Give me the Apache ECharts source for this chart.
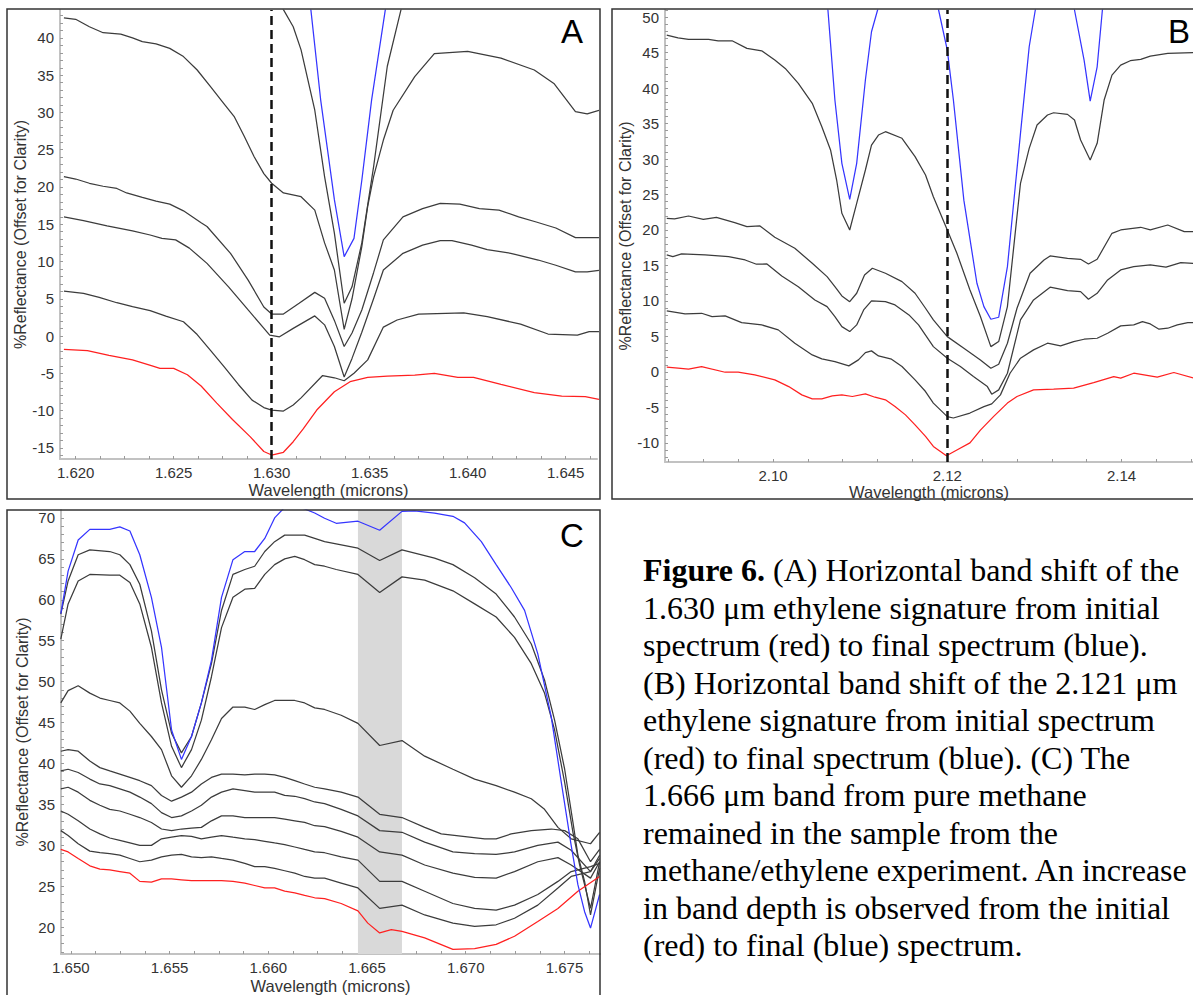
<!DOCTYPE html>
<html><head><meta charset="utf-8">
<script src="https://cdn.jsdelivr.net/npm/echarts@6.0.0/dist/echarts.min.js"></script>
<style>html,body{margin:0;padding:0;background:#fff;}#c{width:1193px;height:995px;}</style>
</head><body><div id="c"></div>
<script>
// ---------------- Panel A (1.620 - 1.646 µm) ----------------
const A_xTicks = [1.620, 1.625, 1.630, 1.635, 1.640, 1.645];
const A_yTicks = [-15, -10, -5, 0, 5, 10, 15, 20, 25, 30, 35, 40];
const A_red = [[1.6194,-1.8],[1.6206,-1.97],[1.6217,-2.6],[1.6229,-3.2],[1.6239,-4.0],[1.6243,-4.34],[1.6250,-4.34],[1.6257,-5.2],[1.6264,-6.7],[1.6272,-9.0],[1.6280,-11.2],[1.6289,-13.5],[1.6296,-15.5],[1.6300,-15.97],[1.6306,-15.6],[1.6311,-14.18],[1.6316,-12.5],[1.6323,-9.93],[1.6332,-7.47],[1.6340,-6.13],[1.6349,-5.55],[1.6359,-5.37],[1.6373,-5.23],[1.6383,-5.0],[1.6395,-5.55],[1.6403,-5.55],[1.6417,-6.5],[1.6434,-7.6],[1.6448,-8.05],[1.6460,-8.14],[1.6467,-8.5]];
const A_s2 = [[1.6194,6.04],[1.6204,5.73],[1.6212,5.19],[1.6221,4.47],[1.6229,3.94],[1.6238,3.4],[1.6246,2.68],[1.6255,1.92],[1.6262,0.2],[1.6269,-2.0],[1.6276,-4.2],[1.6283,-6.5],[1.6290,-8.6],[1.6296,-9.6],[1.6300,-9.93],[1.6306,-10.07],[1.6311,-9.26],[1.6315,-8.3],[1.6326,-5.3],[1.6332,-5.6],[1.6337,-6.0],[1.6342,-5.0],[1.6349,-3.2],[1.6357,1.2],[1.6364,2.15],[1.6375,2.95],[1.6398,3.1],[1.6410,2.6],[1.6427,1.6],[1.6441,0.27],[1.6456,0.13],[1.6462,0.58],[1.6467,0.58]];
const A_s3 = [[1.6194,16.0],[1.6204,15.48],[1.6216,14.77],[1.6229,14.1],[1.6238,13.56],[1.6244,13.1],[1.6251,12.9],[1.6258,11.8],[1.6267,9.75],[1.6278,6.6],[1.6288,3.5],[1.6299,0.13],[1.6304,-0.1],[1.6311,1.03],[1.6322,2.7],[1.6327,1.5],[1.6332,-1.4],[1.6337,-5.5],[1.6341,-3.0],[1.6346,0.5],[1.6352,5.0],[1.6357,8.86],[1.6367,11.1],[1.6377,12.2],[1.6386,12.8],[1.6392,12.8],[1.6402,12.2],[1.6410,11.6],[1.6422,11.1],[1.6436,10.2],[1.6445,9.5],[1.6455,8.6],[1.6461,8.6],[1.6467,8.8]];
const A_s4 = [[1.6194,21.4],[1.6200,21.07],[1.6207,20.5],[1.6214,20.1],[1.6221,19.8],[1.6226,19.2],[1.6234,18.6],[1.6241,18.1],[1.6248,17.7],[1.6255,16.8],[1.6264,15.2],[1.6267,14.7],[1.6279,11.1],[1.6288,7.5],[1.6296,3.9],[1.6300,2.95],[1.6306,2.95],[1.6314,4.4],[1.6322,5.86],[1.6327,5.06],[1.6332,2.1],[1.6337,-1.4],[1.6341,0.4],[1.6346,3.5],[1.6352,8.5],[1.6357,12.9],[1.6367,16.0],[1.6377,17.1],[1.6386,17.8],[1.6396,17.7],[1.6406,17.1],[1.6416,16.9],[1.6426,16.0],[1.6435,15.3],[1.6445,14.5],[1.6455,13.2],[1.6467,13.2]];
const A_s5 = [[1.6194,42.7],[1.6200,42.5],[1.6207,41.5],[1.6214,40.7],[1.6223,40.5],[1.6229,40.0],[1.6234,39.5],[1.6241,39.2],[1.6248,38.6],[1.6255,37.5],[1.6262,35.7],[1.6269,33.4],[1.6275,31.4],[1.6281,29.4],[1.6286,26.8],[1.6291,24.1],[1.6296,21.8],[1.6300,20.5],[1.6306,19.2],[1.6315,18.7],[1.6322,16.9],[1.6327,12.5],[1.6332,8.86],[1.6337,0.9],[1.6341,5.0],[1.6346,12.0],[1.6349,17.4],[1.6352,21.4],[1.6357,26.3],[1.6362,30.3],[1.6373,34.8],[1.6383,37.9],[1.6400,38.2],[1.6417,37.3],[1.6434,35.7],[1.6444,33.9],[1.6455,30.1],[1.6461,29.8],[1.6467,30.3]];
const A_s6 = [[1.6300,47],[1.6306,43.8],[1.6311,41.5],[1.6315,38.4],[1.6322,30.3],[1.6327,21.4],[1.6332,13.8],[1.6337,4.4],[1.6341,6.6],[1.6346,12.5],[1.6352,22.7],[1.6359,36.2],[1.6366,43.8],[1.6370,48]];
const A_blue = [[1.6316,48],[1.6320,43.8],[1.6325,31.7],[1.6332,18.3],[1.6337,10.65],[1.6342,13.1],[1.6346,20.9],[1.6351,31.7],[1.6358,43.8],[1.6362,48]];
const A_marker = 1.630;

// ---------------- Panel B (2.088 - 2.148 µm) ----------------
const B_xTicks = [2.10, 2.12, 2.14];
const B_yTicks = [-10, -5, 0, 5, 10, 15, 20, 25, 30, 35, 40, 45, 50];
const B_red = [[2.0878,0.66],[2.0891,0.52],[2.0903,0.38],[2.0918,0.75],[2.0945,-0.05],[2.0960,-0.05],[2.0979,-0.42],[2.1002,-1.13],[2.1018,-2.07],[2.1033,-3.24],[2.1045,-3.8],[2.1056,-3.8],[2.1068,-3.38],[2.1079,-3.24],[2.1091,-3.47],[2.1106,-3.1],[2.1117,-3.57],[2.1129,-3.94],[2.1140,-4.88],[2.1152,-6.06],[2.1163,-7.46],[2.1175,-9.1],[2.1184,-10.5],[2.1199,-11.83],[2.1211,-11.0],[2.1226,-10.0],[2.1238,-8.2],[2.1253,-6.3],[2.1269,-4.4],[2.1280,-3.47],[2.1299,-2.54],[2.1322,-2.44],[2.1345,-2.3],[2.1368,-1.5],[2.1391,-0.66],[2.1399,-0.89],[2.1414,-0.19],[2.1441,-0.75],[2.1460,-0.09],[2.1483,-0.89]];
const B_s2 = [[2.0878,8.59],[2.0899,8.17],[2.0918,8.26],[2.0930,7.8],[2.0945,7.89],[2.0964,6.95],[2.0987,6.62],[2.1006,5.92],[2.1025,4.04],[2.1045,2.39],[2.1056,1.83],[2.1071,1.45],[2.1087,0.85],[2.1098,1.69],[2.1106,2.72],[2.1113,2.96],[2.1121,2.25],[2.1136,1.79],[2.1148,0.75],[2.1163,-1.13],[2.1175,-2.77],[2.1184,-4.4],[2.1200,-6.3],[2.1207,-6.5],[2.1226,-5.8],[2.1242,-4.9],[2.1251,-4.5],[2.1261,-3.24],[2.1272,-0.19],[2.1284,1.93],[2.1299,3.1],[2.1315,4.04],[2.1330,3.66],[2.1345,4.27],[2.1357,4.6],[2.1372,4.74],[2.1384,5.45],[2.1399,6.48],[2.1414,6.62],[2.1424,7.09],[2.1433,6.76],[2.1443,6.01],[2.1453,6.15],[2.1464,6.62],[2.1476,6.95],[2.1483,6.95]];
const B_s3 = [[2.0878,16.48],[2.0885,16.24],[2.0895,16.62],[2.0922,16.48],[2.0949,16.24],[2.0968,15.77],[2.0981,15.17],[2.0993,15.21],[2.1010,13.52],[2.1029,12.01],[2.1048,10.14],[2.1062,9.2],[2.1071,7.8],[2.1079,6.38],[2.1088,5.68],[2.1096,6.62],[2.1104,8.73],[2.1113,10.0],[2.1129,9.9],[2.1140,9.44],[2.1156,8.03],[2.1167,6.62],[2.1184,3.56],[2.1200,1.93],[2.1215,0.75],[2.1230,-0.66],[2.1246,-2.07],[2.1251,-3.14],[2.1259,-2.54],[2.1269,-0.19],[2.1284,7.32],[2.1299,10.14],[2.1318,11.93],[2.1338,11.45],[2.1353,11.31],[2.1362,10.24],[2.1372,11.08],[2.1384,12.96],[2.1399,14.37],[2.1414,14.83],[2.1433,15.07],[2.1451,14.75],[2.1468,15.39],[2.1483,15.3]];
const B_s4 = [[2.0878,21.64],[2.0887,21.55],[2.0903,21.97],[2.0920,21.5],[2.0935,21.78],[2.0956,21.03],[2.0970,20.46],[2.0985,20.56],[2.1002,18.97],[2.1025,17.42],[2.1045,15.31],[2.1062,13.42],[2.1071,12.01],[2.1079,10.7],[2.1088,9.9],[2.1096,11.08],[2.1105,13.66],[2.1114,14.6],[2.1129,13.9],[2.1148,12.72],[2.1163,11.08],[2.1175,8.97],[2.1184,7.32],[2.1200,4.97],[2.1219,3.34],[2.1238,1.69],[2.1250,0.52],[2.1259,1.08],[2.1269,4.04],[2.1280,8.97],[2.1295,13.9],[2.1311,15.77],[2.1318,16.34],[2.1338,16.01],[2.1353,15.87],[2.1362,15.21],[2.1372,15.87],[2.1389,19.53],[2.1399,20.0],[2.1422,20.38],[2.1433,20.0],[2.1453,20.7],[2.1472,19.76],[2.1483,19.76]];
const B_s5 = [[2.0878,47.46],[2.0891,47.08],[2.0903,46.85],[2.0926,46.85],[2.0937,46.66],[2.0953,46.66],[2.0970,45.59],[2.0987,45.25],[2.1002,43.94],[2.1014,42.77],[2.1029,40.66],[2.1045,37.85],[2.1056,34.55],[2.1066,31.27],[2.1073,27.04],[2.1079,22.35],[2.1088,20.0],[2.1096,23.76],[2.1106,28.45],[2.1113,31.97],[2.1121,33.38],[2.1129,33.85],[2.1148,32.92],[2.1163,30.33],[2.1175,27.75],[2.1184,24.69],[2.1200,20.0],[2.1211,16.72],[2.1226,11.55],[2.1238,7.8],[2.1250,3.56],[2.1259,4.27],[2.1269,9.2],[2.1284,26.58],[2.1294,31.5],[2.1303,34.79],[2.1315,36.2],[2.1322,36.52],[2.1338,36.29],[2.1346,35.49],[2.1353,32.68],[2.1364,29.86],[2.1372,32.21],[2.1380,38.31],[2.1389,41.83],[2.1399,43.24],[2.1410,43.85],[2.1422,44.04],[2.1433,44.51],[2.1453,44.89],[2.1483,44.98]];
const B_blue = [[2.1060,53],[2.1063,51.0],[2.1071,38.31],[2.1079,29.39],[2.1088,24.32],[2.1096,29.39],[2.1106,41.13],[2.1113,47.93],[2.1120,51.0],[2.1124,53],[2.1186,53],[2.1190,51.0],[2.1200,45.35],[2.1207,38.31],[2.1219,24.2],[2.1234,12.49],[2.1242,9.2],[2.1250,7.42],[2.1259,7.7],[2.1269,14.83],[2.1284,33.62],[2.1294,45.82],[2.1301,51.0],[2.1305,53],[2.1343,53],[2.1346,51.0],[2.1357,43.94],[2.1364,38.17],[2.1372,43.0],[2.1378,51.0],[2.1382,53]];
const B_marker = 2.12;

// ---------------- Panel C (1.650 - 1.677 µm) ----------------
const C_xTicks = [1.650, 1.655, 1.660, 1.665, 1.670, 1.675];
const C_yTicks = [20, 25, 30, 35, 40, 45, 50, 55, 60, 65, 70];
const C_band = [1.66454, 1.66677];
const C_blue = [[1.64949,58.3],[1.64986,63.5],[1.65037,67.3],[1.65096,68.6],[1.65197,68.6],[1.65248,68.9],[1.65299,68.4],[1.65349,65.5],[1.65408,60.3],[1.65459,54.2],[1.65510,44.1],[1.65560,40.5],[1.65611,43.3],[1.65661,47.4],[1.65712,52.6],[1.65763,60.3],[1.65821,64.9],[1.65881,65.9],[1.65931,65.9],[1.65982,67.5],[1.66032,70.0],[1.66083,71.3],[1.66134,71.5],[1.66184,71.1],[1.66235,70.6],[1.66285,69.96],[1.66344,69.35],[1.66454,69.6],[1.66564,68.5],[1.66677,70.8],[1.66741,70.85],[1.66842,70.6],[1.66935,70.2],[1.66994,69.4],[1.67079,67.1],[1.67154,64.3],[1.67230,61.5],[1.67298,58.7],[1.67365,53.4],[1.67433,45.7],[1.67484,37.7],[1.67534,30.0],[1.67568,25.2],[1.67602,21.9],[1.67632,19.9],[1.67678,24.0]];
const C_s1 = [[1.64949,58.26],[1.64986,62.3],[1.65037,65.5],[1.65096,66.1],[1.65197,65.9],[1.65248,65.5],[1.65299,64.3],[1.65349,61.9],[1.65408,56.2],[1.65459,49.0],[1.65510,43.7],[1.65560,41.3],[1.65611,43.3],[1.65661,47.4],[1.65712,52.2],[1.65763,58.7],[1.65821,63.1],[1.65881,63.7],[1.65931,64.1],[1.65982,65.9],[1.66032,67.1],[1.66083,67.9],[1.66134,67.9],[1.66184,67.9],[1.66235,67.5],[1.66285,67.1],[1.66454,66.3],[1.66564,64.8],[1.66677,66.1],[1.66842,65.1],[1.66935,64.3],[1.67045,62.7],[1.67154,60.7],[1.67247,57.9],[1.67332,54.6],[1.67399,50.2],[1.67450,45.3],[1.67501,39.3],[1.67543,32.8],[1.67568,28.8],[1.67602,25.6],[1.67632,21.5],[1.67678,27.2]];
const C_s2 = [[1.64949,55.2],[1.64986,59.5],[1.65037,62.3],[1.65096,63.1],[1.65197,63.0],[1.65248,63.0],[1.65299,62.1],[1.65349,59.5],[1.65408,54.2],[1.65459,47.4],[1.65510,42.1],[1.65560,39.5],[1.65611,41.7],[1.65661,45.3],[1.65712,50.6],[1.65763,56.6],[1.65821,60.3],[1.65881,61.3],[1.65931,61.4],[1.65982,63.1],[1.66032,64.3],[1.66083,65.0],[1.66134,65.3],[1.66184,64.9],[1.66235,64.3],[1.66285,64.1],[1.66344,63.7],[1.66454,63.1],[1.66564,60.9],[1.66677,62.8],[1.66792,62.4],[1.66935,61.1],[1.67045,59.5],[1.67154,57.9],[1.67247,55.4],[1.67332,52.2],[1.67399,48.6],[1.67450,44.1],[1.67501,37.7],[1.67543,31.6],[1.67577,27.6],[1.67632,22.3],[1.67678,28.0]];
const C_s3 = [[1.64949,47.4],[1.64986,48.9],[1.65037,49.5],[1.65096,48.6],[1.65147,48.0],[1.65197,47.7],[1.65248,47.4],[1.65299,46.4],[1.65349,44.9],[1.65408,43.3],[1.65459,41.7],[1.65510,38.5],[1.65560,37.1],[1.65611,38.5],[1.65661,40.5],[1.65712,42.9],[1.65763,45.5],[1.65821,46.9],[1.65881,46.9],[1.65931,46.6],[1.65982,47.2],[1.66032,47.7],[1.66083,47.7],[1.66134,47.7],[1.66184,47.4],[1.66235,46.8],[1.66285,46.6],[1.66369,45.9],[1.66454,44.9],[1.66564,42.2],[1.66677,42.8],[1.66792,40.9],[1.66935,39.3],[1.67045,38.1],[1.67154,37.3],[1.67247,36.5],[1.67332,35.7],[1.67399,34.4],[1.67467,32.2],[1.67534,30.8],[1.67632,30.2],[1.67678,31.6]];
const C_s4 = [[1.64949,41.5],[1.64986,41.7],[1.65037,41.5],[1.65096,40.3],[1.65147,39.5],[1.65197,39.1],[1.65248,38.7],[1.65299,38.3],[1.65349,37.9],[1.65408,37.3],[1.65459,36.1],[1.65510,35.4],[1.65560,35.9],[1.65611,36.5],[1.65661,37.5],[1.65712,38.3],[1.65763,38.7],[1.65821,38.7],[1.65881,38.6],[1.65931,38.7],[1.65982,38.7],[1.66032,38.6],[1.66083,38.3],[1.66134,37.9],[1.66184,37.5],[1.66235,37.1],[1.66285,36.9],[1.66369,36.5],[1.66454,35.9],[1.66564,33.8],[1.66677,33.4],[1.66792,32.2],[1.66876,31.4],[1.66986,31.1],[1.67096,30.8],[1.67154,30.8],[1.67230,31.4],[1.67332,31.8],[1.67433,32.0],[1.67501,31.8],[1.67568,30.8],[1.67632,28.0],[1.67678,29.5]];
const C_s5 = [[1.64949,39.1],[1.64986,39.3],[1.65037,38.9],[1.65096,38.1],[1.65147,37.5],[1.65197,37.3],[1.65248,36.9],[1.65299,36.5],[1.65349,35.9],[1.65408,35.1],[1.65459,34.0],[1.65510,33.4],[1.65560,33.6],[1.65611,34.2],[1.65661,34.9],[1.65712,35.9],[1.65763,36.5],[1.65821,36.9],[1.65881,36.7],[1.65931,36.5],[1.65982,36.5],[1.66032,36.5],[1.66083,36.1],[1.66134,36.0],[1.66184,35.7],[1.66235,35.3],[1.66285,35.1],[1.66369,34.4],[1.66454,33.6],[1.66564,31.8],[1.66677,31.6],[1.66792,30.4],[1.66935,29.2],[1.67045,29.0],[1.67154,28.9],[1.67247,29.2],[1.67365,30.0],[1.67467,30.4],[1.67534,29.4],[1.67632,26.8],[1.67678,28.8]];
const C_s6 = [[1.64949,36.9],[1.64986,37.1],[1.65037,36.5],[1.65096,35.5],[1.65147,34.9],[1.65197,34.4],[1.65248,34.2],[1.65299,33.8],[1.65349,33.4],[1.65408,32.8],[1.65459,32.0],[1.65510,31.8],[1.65560,32.0],[1.65611,32.1],[1.65661,32.2],[1.65712,33.0],[1.65763,33.6],[1.65821,33.6],[1.65881,33.4],[1.65931,33.4],[1.65982,33.4],[1.66032,33.4],[1.66083,33.2],[1.66134,33.0],[1.66184,32.8],[1.66235,32.4],[1.66285,32.3],[1.66369,31.7],[1.66454,31.0],[1.66564,29.2],[1.66677,28.8],[1.66792,27.6],[1.66935,26.6],[1.67045,26.1],[1.67154,26.0],[1.67247,26.8],[1.67365,28.0],[1.67467,28.5],[1.67534,27.6],[1.67632,26.0],[1.67678,28.0]];
const C_s7 = [[1.64949,34.2],[1.64986,33.8],[1.65037,33.0],[1.65096,32.0],[1.65147,31.4],[1.65197,30.9],[1.65248,30.6],[1.65299,30.3],[1.65349,30.0],[1.65408,30.0],[1.65459,30.8],[1.65510,31.0],[1.65560,31.2],[1.65611,31.1],[1.65661,30.8],[1.65712,31.0],[1.65763,31.2],[1.65821,31.0],[1.65881,30.8],[1.65931,30.7],[1.65982,30.5],[1.66032,30.3],[1.66083,30.1],[1.66134,29.8],[1.66184,29.5],[1.66235,29.2],[1.66285,29.1],[1.66369,28.6],[1.66454,28.2],[1.66564,25.6],[1.66677,25.6],[1.66792,24.4],[1.66935,22.9],[1.67045,22.3],[1.67154,22.1],[1.67247,22.7],[1.67365,24.0],[1.67467,25.6],[1.67534,26.8],[1.67632,27.4],[1.67678,27.8]];
const C_s8 = [[1.64949,31.8],[1.64986,31.2],[1.65037,30.2],[1.65096,29.3],[1.65147,29.1],[1.65197,29.0],[1.65248,28.8],[1.65299,28.4],[1.65349,28.0],[1.65408,28.2],[1.65459,28.6],[1.65510,28.8],[1.65560,28.9],[1.65611,28.6],[1.65661,28.5],[1.65712,28.6],[1.65763,28.4],[1.65821,28.2],[1.65881,27.8],[1.65931,27.4],[1.65982,27.4],[1.66032,27.2],[1.66083,26.9],[1.66134,26.6],[1.66184,26.2],[1.66235,26.0],[1.66285,26.0],[1.66369,25.4],[1.66454,24.8],[1.66564,22.3],[1.66677,22.7],[1.66792,21.5],[1.66935,20.5],[1.67045,20.1],[1.67154,20.3],[1.67247,21.1],[1.67365,22.7],[1.67467,24.8],[1.67534,26.2],[1.67632,26.8],[1.67678,28.4]];
const C_red = [[1.64949,29.5],[1.64986,29.2],[1.65037,28.4],[1.65096,27.5],[1.65147,27.1],[1.65197,27.0],[1.65248,26.8],[1.65299,26.6],[1.65349,25.6],[1.65408,25.5],[1.65459,25.9],[1.65510,25.9],[1.65560,25.8],[1.65611,25.7],[1.65661,25.7],[1.65712,25.7],[1.65763,25.7],[1.65821,25.6],[1.65881,25.4],[1.65931,25.1],[1.65982,24.8],[1.66032,24.8],[1.66083,24.4],[1.66134,24.2],[1.66184,23.9],[1.66235,23.6],[1.66285,23.5],[1.66369,22.9],[1.66454,22.0],[1.66504,20.5],[1.66564,19.3],[1.66623,19.7],[1.66677,19.5],[1.66792,18.7],[1.66935,17.3],[1.67045,17.4],[1.67154,17.9],[1.67247,18.9],[1.67365,20.7],[1.67467,22.3],[1.67568,24.4],[1.67678,26.2]];

// ---------------- Caption ----------------
const captionLines = [
  '{b|Figure 6.} (A) Horizontal band shift of the',
  '1.630 μm ethylene signature from initial',
  'spectrum (red) to final spectrum (blue).',
  '(B) Horizontal band shift of the 2.121 μm',
  'ethylene signature from initial spectrum',
  '(red) to final spectrum (blue). (C) The',
  '1.666 μm band from pure methane',
  'remained in the sample from the',
  'methane/ethylene experiment. An increase',
  'in band depth is observed from the initial',
  '(red) to final (blue) spectrum.'
];
const panelLetters = ['A', 'B', 'C'];

// ---------------- Build chart ----------------
const SANS = '"Liberation Sans", Arial, Helvetica, sans-serif';
const SERIF = '"Liberation Serif", "Times New Roman", serif';
const BLACK = '#3c3c3c', RED = '#ff2020', BLUE = '#3535ff';
const CAP_SIZE = 32;

function stepTicks(majors, step, min, max) {
  const out = [];
  let v = majors[0];
  while (v - step >= min - 1e-9) v -= step;
  for (; v <= max + 1e-9; v += step) out.push(Math.round(v * 1e6) / 1e6);
  return out;
}
function xAxisCfg(gi, min, max, majors, minorStep, dec, gap) {
  return {
    gridIndex: gi, type: 'value', min: min, max: max,
    name: 'Wavelength (microns)', nameLocation: 'middle', nameGap: gap,
    nameTextStyle: { fontSize: 16.5, color: '#333', fontFamily: SANS },
    axisLine: { show: true, onZero: false, lineStyle: { color: '#c2c2c2', width: 2 } },
    axisTick: { show: true, inside: true, length: 3, customValues: stepTicks(majors, minorStep, min, max), lineStyle: { color: '#9a9a9a', width: 1 } },
    axisLabel: { customValues: majors, formatter: v => Number(v).toFixed(dec), fontSize: 15, color: '#333', margin: 6, fontFamily: SANS },
    splitLine: { show: false }
  };
}
function yAxisCfg(gi, min, max, majors, gap) {
  return {
    gridIndex: gi, type: 'value', min: min, max: max,
    name: '%Reflectance (Offset for Clarity)', nameLocation: 'middle', nameGap: gap,
    nameTextStyle: { fontSize: 16, color: '#333', fontFamily: SANS },
    axisLine: { show: true, onZero: false, lineStyle: { color: '#c2c2c2', width: 2 } },
    axisTick: { show: true, inside: true, length: 3, customValues: stepTicks(majors, 1, min, max), lineStyle: { color: '#9a9a9a', width: 1 } },
    axisLabel: { customValues: majors, formatter: v => String(Math.round(v)), fontSize: 15, color: '#333', margin: 6, fontFamily: SANS },
    splitLine: { show: false }
  };
}
function line(gi, data, color, extra) {
  return Object.assign({
    type: 'line', xAxisIndex: gi, yAxisIndex: gi, data: data,
    showSymbol: false, symbol: 'none', silent: true, clip: true,
    lineStyle: { color: color, width: 1.25 }, itemStyle: { color: color }, z: 3
  }, extra || {});
}
function vmark(x) {
  return { symbol: 'none', silent: true, label: { show: false },
    lineStyle: { type: [9, 5], color: '#111', width: 2.5 }, data: [{ xAxis: x }] };
}

const series = [];
[A_s2, A_s3, A_s4, A_s5, A_s6].forEach(d => series.push(line(0, d, BLACK)));
series.push(line(0, A_red, RED, { markLine: vmark(A_marker) }));
series.push(line(0, A_blue, BLUE));
[B_s2, B_s3, B_s4, B_s5].forEach(d => series.push(line(1, d, BLACK)));
series.push(line(1, B_red, RED, { markLine: vmark(B_marker) }));
series.push(line(1, B_blue, BLUE));
series.push({ type: 'line', xAxisIndex: 2, yAxisIndex: 2, data: [], z: 1, silent: true,
  markArea: { silent: true, itemStyle: { color: '#d9d9d9' }, data: [[{ xAxis: C_band[0] }, { xAxis: C_band[1] }]] } });
[C_s1, C_s2, C_s3, C_s4, C_s5, C_s6, C_s7, C_s8].forEach(d => series.push(line(2, d, BLACK)));
series.push(line(2, C_red, RED));
series.push(line(2, C_blue, BLUE));

const graphic = [
  { type: 'rect', shape: { x: 7, y: 9, width: 593, height: 490 }, style: { fill: 'none', stroke: '#333', lineWidth: 1.5 }, z: 10, silent: true },
  { type: 'rect', shape: { x: 612, y: 9, width: 600, height: 490 }, style: { fill: 'none', stroke: '#333', lineWidth: 1.5 }, z: 10, silent: true },
  { type: 'rect', shape: { x: 7, y: 510, width: 593, height: 500 }, style: { fill: 'none', stroke: '#333', lineWidth: 1.5 }, z: 10, silent: true },
  { type: 'text', x: 572, y: 31, style: { text: panelLetters[0], fontSize: 33, fontFamily: SANS, fill: '#000', textAlign: 'center', textVerticalAlign: 'middle' }, z: 10 },
  { type: 'text', x: 1179, y: 31, style: { text: panelLetters[1], fontSize: 33, fontFamily: SANS, fill: '#000', textAlign: 'center', textVerticalAlign: 'middle' }, z: 10 },
  { type: 'text', x: 572, y: 535, style: { text: panelLetters[2], fontSize: 33, fontFamily: SANS, fill: '#000', textAlign: 'center', textVerticalAlign: 'middle' }, z: 10 }
];
captionLines.forEach((t, i) => {
  graphic.push({ type: 'text', x: 643, y: 570 + i * 37.5, z: 10,
    style: { text: t, fontSize: CAP_SIZE, fontFamily: SERIF, fill: '#000', textAlign: 'left', textVerticalAlign: 'middle',
      rich: { b: { fontSize: CAP_SIZE, fontFamily: SERIF, fontWeight: 'bold', fill: '#000' } } } });
});

const chart = echarts.init(document.getElementById('c'), null, { renderer: 'svg' });
chart.setOption({
  animation: false,
  backgroundColor: '#fff',
  grid: [
    { left: 60, top: 10, width: 537, height: 449 },
    { left: 665, top: 10, width: 528, height: 452 },
    { left: 61, top: 510, width: 539, height: 448 }
  ],
  xAxis: [
    xAxisCfg(0, 1.6192, 1.6466, A_xTicks, 0.00125, 3, 22),
    xAxisCfg(1, 2.0876, 2.1482, B_xTicks, 0.004, 2, 21),
    xAxisCfg(2, 1.6495, 1.6768, C_xTicks, 0.00125, 3, 23)
  ],
  yAxis: [
    yAxisCfg(0, -16.5, 43.75, A_yTicks, 30),
    yAxisCfg(1, -12.7, 51.0, B_yTicks, 31),
    yAxisCfg(2, 16.73, 70.97, C_yTicks, 31)
  ],
  series: series,
  graphic: graphic
});
</script></body></html>
